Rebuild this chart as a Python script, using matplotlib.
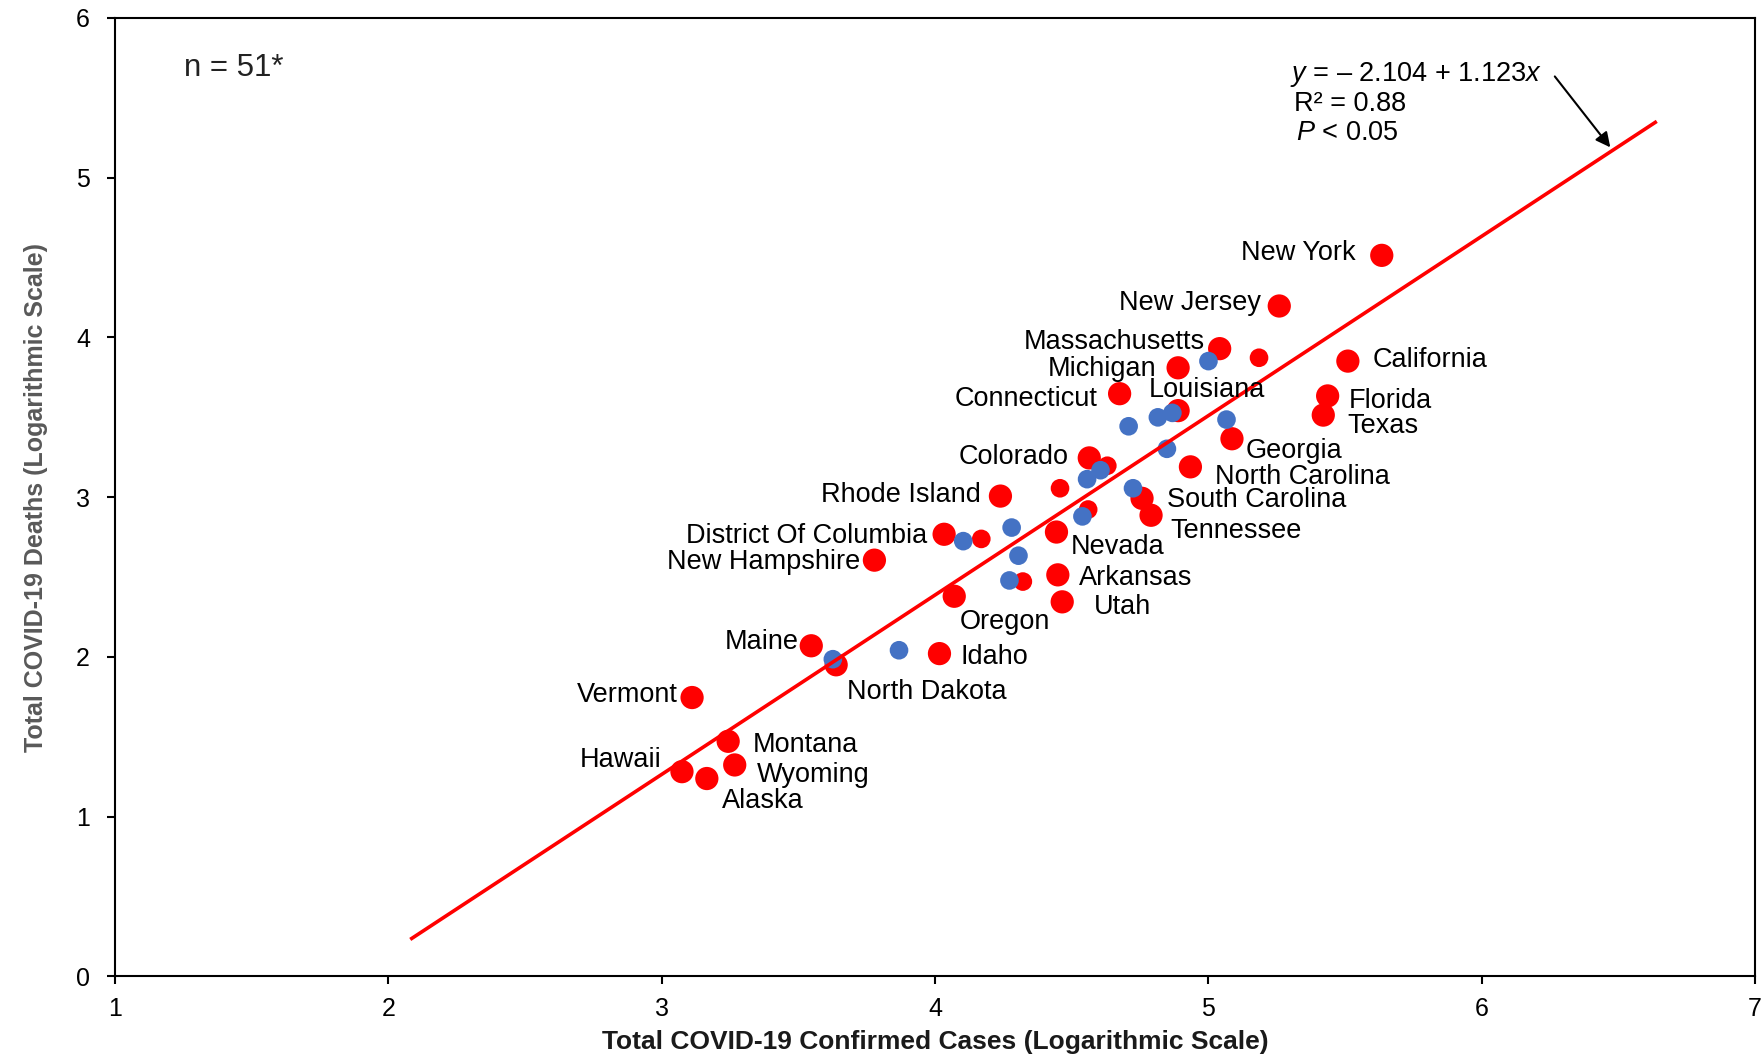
import matplotlib
matplotlib.use("Agg")
import matplotlib.pyplot as plt
import numpy as np

plt.rcParams["font.family"] = ["Liberation Sans", "DejaVu Sans"]
plt.rcParams["mathtext.fontset"] = "custom"
plt.rcParams["mathtext.rm"] = "Liberation Sans"
plt.rcParams["mathtext.it"] = "Liberation Sans:italic"

# Labelled states (log10 confirmed cases, log10 deaths)
states = ["New York", "New Jersey", "Massachusetts", "Michigan", "California",
          "Connecticut", "Louisiana", "Florida", "Texas", "Georgia", "Colorado",
          "North Carolina", "Rhode Island", "South Carolina", "Tennessee",
          "District Of Columbia", "New Hampshire", "Nevada", "Arkansas", "Oregon",
          "Utah", "Maine", "Idaho", "North Dakota", "Vermont", "Montana",
          "Wyoming", "Hawaii", "Alaska"]
state_cases = [5.634, 5.259, 5.041, 4.889, 5.510, 4.675, 4.889, 5.436, 5.420,
               5.086, 4.564, 4.934, 4.239, 4.757, 4.790, 4.033, 3.778, 4.444,
               4.449, 4.070, 4.465, 3.547, 4.016, 3.638, 3.111, 3.243, 3.267,
               3.074, 3.165]
state_deaths = [4.514, 4.197, 3.930, 3.810, 3.852, 3.648, 3.542, 3.634, 3.514,
                3.366, 3.246, 3.190, 3.007, 2.993, 2.887, 2.768, 2.606, 2.782,
                2.514, 2.380, 2.345, 2.070, 2.021, 1.951, 1.746, 1.472, 1.324,
                1.282, 1.239]

# Other red-group states without labels
red_cases = [5.185, 4.630, 4.457, 4.560, 4.169, 4.321]
red_deaths = [3.873, 3.197, 3.056, 2.923, 2.739, 2.472]

# Blue-group states
blue_cases = [5.000, 4.708, 4.815, 4.868, 5.066, 4.848, 4.605, 4.556, 4.724,
              4.539, 4.280, 4.103, 4.305, 4.272, 3.868, 3.626]
blue_deaths = [3.852, 3.444, 3.500, 3.528, 3.486, 3.303, 3.169, 3.113, 3.056,
               2.880, 2.810, 2.725, 2.634, 2.479, 2.042, 1.986]

# Regression fit
intercept = -2.104
slope = 1.123
fit_range = [2.08, 6.64]

# Label placement: offset in points and horizontal alignment
label_offsets = {
    "New York": (-19, 3, "right"), "New Jersey": (-13, 4, "right"),
    "Massachusetts": (-11, 6, "right"), "Michigan": (-16, 1, "right"),
    "California": (18, 2, "left"), "Connecticut": (-16, -2, "right"),
    "Louisiana": (-21, 16, "left"), "Florida": (15, -2, "left"),
    "Texas": (17, -6, "left"), "Georgia": (10, -7, "left"),
    "Colorado": (-15, 2, "right"), "North Carolina": (18, -6, "left"),
    "Rhode Island": (-14, 2, "right"), "South Carolina": (18, 0, "left"),
    "Tennessee": (14, -10, "left"), "District Of Columbia": (-12, 0, "right"),
    "New Hampshire": (-10, 0, "right"), "Nevada": (10, -9, "left"),
    "Arkansas": (15, -1, "left"), "Oregon": (4, -17, "left"),
    "Utah": (23, -2, "left"), "Maine": (-9, 4, "right"),
    "Idaho": (15, -1, "left"), "North Dakota": (8, -18, "left"),
    "Vermont": (-10, 3, "right"), "Montana": (18, -1, "left"),
    "Wyoming": (16, -6, "left"), "Hawaii": (-15, 10, "right"),
    "Alaska": (11, -15, "left"),
}

fig = plt.figure(figsize=(17.64, 10.57), dpi=100)
ax = fig.add_axes([0.0652, 0.0762, 0.9298, 0.9068])

red = "#FF0000"
blue = "#4472C4"
ax.scatter(state_cases, state_deaths, s=280, color=red, edgecolors="none", zorder=2)
ax.scatter(red_cases, red_deaths, s=180, color=red, edgecolors="none", zorder=2)
ax.scatter(blue_cases, blue_deaths, s=180, color=blue, edgecolors="none", zorder=3)

fx = np.array(fit_range)
ax.plot(fx, intercept + slope * fx, color=red, lw=2.6, zorder=4,
        solid_capstyle="butt")

for name, x, y in zip(states, state_cases, state_deaths):
    dx, dy, ha = label_offsets[name]
    ax.annotate(name, (x, y), xytext=(dx, dy - 1.5), textcoords="offset points",
                ha=ha, va="center", fontsize=19.5, color="black", zorder=5)

ax.text(5.30, 5.645, "$y$ = – 2.104 + 1.123$x$", fontsize=19.5, va="center", ha="left")
ax.text(5.312, 5.462, "R² = 0.88", fontsize=19.5, va="center", ha="left")
ax.text(5.32, 5.279, "$P$ < 0.05", fontsize=19.5, va="center", ha="left")
ax.annotate("", xy=(6.47, 5.19), xytext=(6.267, 5.634),
            arrowprops=dict(arrowstyle="-|>", color="black", lw=1.5,
                            mutation_scale=22, shrinkA=0, shrinkB=0))

ax.text(0.0418, 0.948, "n = 51*", transform=ax.transAxes, fontsize=22.5,
        va="center", ha="left", color="#222222")

ax.set_xlim(1, 7)
ax.set_ylim(0, 6)
ax.set_xticks(range(1, 8))
ax.set_yticks(range(0, 7))
ax.tick_params(axis="both", direction="out", length=6, width=1.5,
               labelsize=18, colors="black")
ax.tick_params(axis="y", pad=12)
ax.tick_params(axis="x", pad=9)
for sp in ax.spines.values():
    sp.set_linewidth(1.5)
    sp.set_color("black")

ax.set_xlabel("Total COVID-19 Confirmed Cases (Logarithmic Scale)",
              fontsize=19, fontweight="bold", color="#1a1a1a", labelpad=6)
ax.set_ylabel("Total COVID-19 Deaths (Logarithmic Scale)",
              fontsize=18, fontweight="bold", color="#595959", labelpad=20)

fig.savefig("out.png", dpi=100)
